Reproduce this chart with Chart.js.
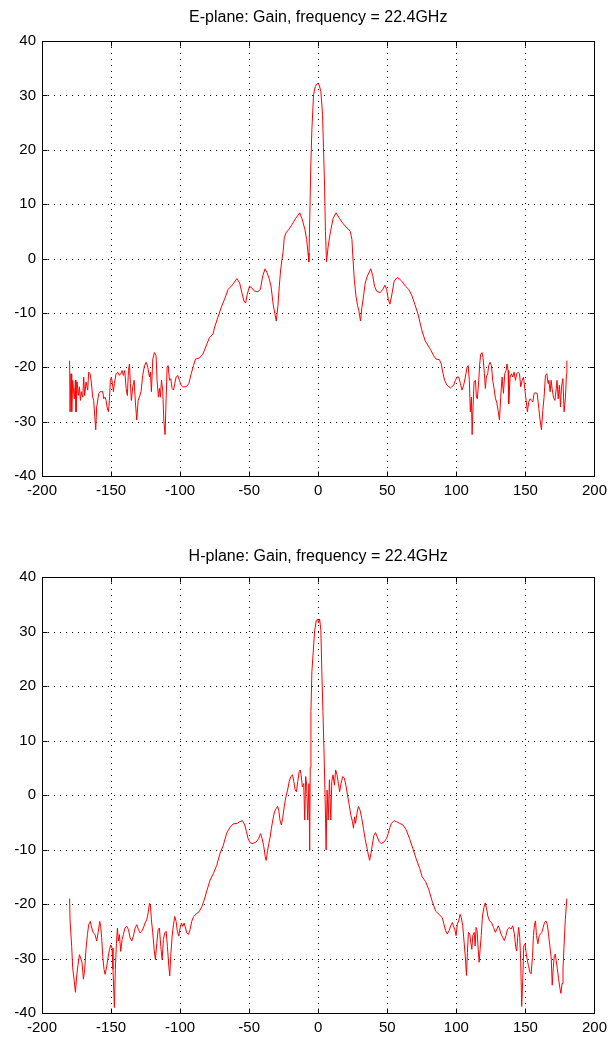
<!DOCTYPE html>
<html>
<head>
<meta charset="utf-8">
<script src="https://cdn.jsdelivr.net/npm/chart.js@4.4.1/dist/chart.umd.min.js"></script>
<style>
  html, body { margin: 0; padding: 0; background: #ffffff; }
  body { width: 613px; height: 1040px; position: relative; overflow: hidden; }
  canvas { position: absolute; left: 0; }
  #cE { top: 0; }
  #cH { top: 536px; }
</style>
</head>
<body>
<canvas id="cE" width="613" height="520"></canvas>
<canvas id="cH" width="613" height="504"></canvas>
<script>
// ---- tick labels ----
const xTicks = [-200, -150, -100, -50, 0, 50, 100, 150, 200];
const yTicks = [-40, -30, -20, -10, 0, 10, 20, 30, 40];

// ---- titles ----
const titleE = 'E-plane: Gain, frequency = 22.4GHz';
const titleH = 'H-plane: Gain, frequency = 22.4GHz';

// ---- E-plane: angle (deg) and gain (dB) ----
const angleE = [
  -180, -179.7, -179, -178.5, -177.8, -176.6, -175.8, -175.4, -174.6, -173.7, -172.9, -172.2, -171.5, -170.5,
  -169.8, -169.1, -168.1, -166.9, -166.2, -165.2, -164.3, -163.3, -162.6, -161.8, -161.1, -160.4, -158.9, -158,
  -156, -155.3, -154.3, -153.6, -152.9, -151.9, -151.2, -150.5, -149.8, -149, -148.3, -147.6, -146.4, -145.2,
  -144, -143, -142, -141.1, -140.1, -139.1, -138.2, -137.4, -136.7, -136, -135.3, -134.3, -133.3, -132.4,
  -131.4, -130.4, -129.5, -128.3, -127.1, -125.8, -124.6, -123.4, -122.2, -121.5, -120.8, -119.8, -118.6,
  -117.4, -116.7, -115.7, -115, -114.3, -113.5, -112.6, -111.8, -110.9, -110.1, -109.4, -108.7, -107.7, -106.8,
  -105.8, -104.8, -103.9, -102.9, -101.7, -100.5, -99.3, -98.1, -95.7, -93.7, -92, -90.3, -88.9, -86, -83.6,
  -81.2, -78.7, -76.2, -75, -72.6, -70.1, -67.7, -65.3, -63, -61.7, -58.9, -56.9, -55.3, -53.8, -52.6, -51.4,
  -49.8, -48.1, -46.2, -43.8, -41.9, -40.2, -38.5, -37.1, -35.4, -34.2, -32.5, -31.1, -30.4, -29.2, -28.2,
  -27.3, -26.3, -25.4, -24.6, -23.4, -21.5, -19.1, -16.3, -13.4, -11.5, -9.6, -8.4, -7.4, -6.8, -6.1, -5.4,
  -4.6, -3.4, -2.2, -1.0, 0, 0.7, 1.9, 3.1, 3.8, 4.6, 5.2, 6.0, 7.2, 8.9, 10.8, 12.9, 15.3, 17.7, 20.8, 23.2,
  24.4, 25.1, 26.1, 27.3, 28.5, 29.4, 30.6, 31.6, 32.8, 34.0, 35.6, 38.0, 39.5, 40.7, 42.3, 44.7, 46.7, 48.3,
  49.5, 50.7, 51.9, 53.1, 55.0, 57.4, 60.3, 63.2, 65.6, 67.9, 69.9, 72.2, 75.1, 77.5, 81.2, 83.6, 85.3, 87.7,
  89.1, 90.1, 91.5, 93.2, 95.7, 98.1, 99.3, 100.5, 101.7, 102.9, 104.1, 105.3, 106.5, 107.7, 108.5, 109.4,
  110.1, 110.9, 111.4, 112.1, 112.8, 113.8, 114.5, 115.2, 116.2, 116.9, 117.6, 118.6, 119.3, 120.3, 121.0,
  121.7, 122.7, 123.4, 124.4, 125.4, 126.3, 127.3, 128.3, 129.2, 130.2, 131.2, 132.1, 133.1, 134.1, 135.0,
  136.0, 136.7, 137.4, 137.9, 138.9, 139.9, 140.8, 141.8, 142.8, 143.7, 144.7, 145.7, 146.6, 147.6, 148.6,
  149.5, 150.5, 151.4, 152.4, 153.4, 154.3, 155.3, 156.3, 157.2, 158.5, 159.7, 160.6, 161.6, 162.6, 163.5,
  164.5, 165.5, 166.4, 166.9, 167.9, 168.6, 169.3, 170.3, 171.3, 172.2, 172.9, 173.7, 174.6, 175.4, 176.1,
  177.1, 178.0, 179.0, 179.7, 180
];
const gainE = [
  -18.8, -28.2, -21.2, -28.2, -22.4, -25.8, -22.4, -28.2, -22.7, -25.2, -23.6, -26.1, -24.5, -25.5,
  -21.8, -25.2, -22.7, -24.2, -20.9, -21.2, -22.7, -25.5, -26.1, -29.1, -31.5, -27.3, -24.8, -24.5,
  -24.5, -25.8, -25.5, -26.1, -27.3, -28.2, -26.1, -22.4, -21.8, -23.0, -24.5, -23.0, -21.2, -20.9,
  -21.5, -21.2, -20.6, -21.5, -20.6, -23.9, -25.2, -20.6, -19.4, -23.0, -26.1, -23.6, -22.4, -26.4,
  -29.7, -26.1, -25.5, -24.5, -21.5, -19.7, -19.1, -20.0, -21.8, -20.9, -24.5, -18.5, -17.3,
  -17.9, -22.4, -25.5, -23.9, -25.5, -22.4, -24.2, -29.7, -32.4, -25.5, -20.0, -19.7, -22.4, -22.1,
  -23.9, -24.2, -23.0, -21.8, -21.5, -22.4, -23.3, -23.6, -23.6, -23.0, -21.2, -19.7, -18.5, -18.3, -17.6,
  -16.1, -14.5, -13.9, -12.6, -10.8, -8.9, -7.4, -5.7, -5.1, -4.7, -3.7, -4.5, -6.3, -7.8, -8.2, -6.6,
  -5.1, -5.4, -6.0, -6.1, -5.7, -3.2, -1.9, -2.6, -3.8, -5.1, -8.7, -10.5, -11.5, -8.7, -5.1,
  -2.3, -0.2, 1.3, 3.8, 4.7, 5.3, 6.2, 7.4, 8.4, 7.1, 5.3, 3.5, 1.0, -0.6, 8.0, 17.0,
  23.7, 30.1, 31.6, 32.1, 32.2, 31.9, 30.7, 26.5, 20.4, 13.1, 5.0, -0.6, 2.3, 5.0, 7.4, 8.4, 7.4, 6.5, 5.6, 5.0,
  3.5, 0.1, -3.8, -6.9, -8.7, -9.6, -11.5, -9.0, -6.9, -4.5, -3.2, -1.9, -3.2, -5.1, -6.0, -6.3, -5.7, -4.9,
  -5.7, -7.5, -8.4, -6.9, -4.1, -3.5, -4.1, -5.1, -5.7, -6.9, -8.4, -10.2, -13.3, -15.2, -16.7, -17.9, -18.5, -18.6,
  -19.4, -20.9, -22.4, -23.3, -23.8, -23.3, -22.4, -21.8, -21.8, -23.0, -24.2, -23.3, -21.8, -20.0, -19.7, -22.4,
  -28.2, -25.5, -32.4, -27.3, -22.7, -22.4, -25.5, -25.8, -22.4, -19.4, -17.6, -17.3, -18.2, -21.2, -23.9,
  -21.8, -21.2, -19.7, -19.1, -19.7, -22.4, -23.9, -25.8, -26.4, -27.9, -29.7, -25.5, -21.8, -24.8, -21.2,
  -20.6, -19.4, -20.6, -26.7, -21.8, -21.2, -21.8, -20.9, -22.4, -21.2, -20.9, -21.2, -23.6, -22.4, -21.8,
  -23.9, -26.1, -28.2, -26.4, -25.8, -26.1, -26.4, -24.8, -24.7, -24.8, -27.6, -29.7, -31.5, -27.9, -25.5,
  -21.5, -21.2, -23.0, -22.4, -24.5, -22.4, -23.9, -25.5, -26.1, -24.2, -22.4, -25.8, -23.3, -27.3, -23.6,
  -22.1, -28.2, -25.5, -21.2, -18.8
];

// ---- H-plane: angle (deg) and gain (dB) ----
const angleH = [
  -180, -179.7, -178.5, -177.8, -176.8, -175.8, -174.9, -173.9, -172.9, -172.0, -171.0, -170.0, -169.1, -168.1,
  -167.1, -166.2, -165.0, -164.0, -162.8, -161.6, -160.4, -159.2, -158.2, -157.5, -156.8, -156.0, -155.1,
  -154.3, -153.1, -152.2, -151.2, -150.2, -149.3, -148.6, -147.6, -146.9, -146.1, -145.4, -144.7, -144.0,
  -143.0, -142.0, -141.1, -139.9, -138.6, -137.4, -136.2, -135.0, -133.8, -132.6, -131.4, -130.2, -129.0,
  -127.8, -126.6, -125.4, -124.2, -123.2, -122.2, -121.5, -120.8, -119.8, -118.8, -117.9, -116.9, -115.9,
  -115.0, -114.0, -113.0, -112.1, -111.1, -110.1, -109.2, -108.2, -107.5, -106.8, -105.8, -104.8, -103.9,
  -102.9, -102.0, -101.0, -100.0, -99.0, -98.1, -97.1, -96.1, -95.2, -94.0, -92.8, -91.6, -90.3, -87.9, -86.2,
  -84.3, -82.6, -80.7, -78.3, -75.9, -73.5, -71.1, -68.7, -66.3, -64.0, -61.6, -58.7, -56.8, -54.9, -53.2,
  -52.0, -50.8, -49.2, -47.3, -44.9, -43.2, -41.8, -40.6, -39.4, -38.4, -37.7, -36.8, -35.8, -34.8, -33.9,
  -32.9, -31.7, -30.5, -29.4, -28.6, -27.7, -26.7, -25.8, -24.6, -23.4, -22.2, -21.0, -19.8, -18.6, -17.7,
  -16.7, -15.8, -14.8, -13.8, -13.1, -12.4, -11.5, -10.5, -9.8, -9.1, -8.4, -7.6, -6.7, -6.2, -5.8, -5.3,
  -4.6, -2.6, -1.4, -0.4, 0.2, 1.0, 1.9, 2.6, 3.4, 4.1, 5.0, 5.7, 6.4, 7.2, 8.1, 9.1, 9.8, 10.7, 11.7, 12.6,
  13.6, 14.6, 15.5, 16.5, 17.7, 18.9, 20.0, 21.2, 22.4, 23.6, 24.8, 25.5, 26.3, 27.0, 28.2, 29.1, 30.3, 31.5,
  32.7, 33.9, 35.1, 36.3, 37.2, 38.2, 39.1, 40.3, 41.5, 42.7, 44.2, 45.8, 47.7, 49.4, 50.6, 51.8, 53.0, 54.9,
  56.6, 58.9, 61.3, 63.7, 66.1, 68.5, 70.9, 73.5, 75.2, 77.7, 80.1, 82.5, 85.0, 87.4, 89.8, 91.0, 92.2, 93.4,
  94.7, 95.9, 97.1, 97.8, 98.8, 99.8, 100.7, 101.7, 102.7, 103.6, 104.6, 105.6, 106.6, 107.3, 108.0, 108.7,
  109.7, 110.4, 111.2, 111.9, 112.9, 113.6, 114.3, 115.0, 115.8, 116.5, 117.2, 118.0, 118.9, 119.9, 120.9,
  121.8, 122.8, 124.0, 125.5, 126.9, 128.2, 129.4, 130.3, 131.3, 132.3, 133.5, 134.7, 135.9, 137.1, 138.3,
  139.6, 140.8, 142.0, 143.0, 143.7, 144.4, 145.1, 145.9, 146.6, 147.3, 148.1, 148.8, 149.8, 150.5, 151.2,
  152.2, 153.2, 154.1, 155.1, 155.8, 156.6, 157.3, 158.0, 159.0, 160.0, 160.9, 161.9, 162.9, 163.8, 164.8,
  165.8, 166.7, 167.7, 168.7, 169.4, 170.1, 170.9, 171.6, 172.3, 173.1, 174.0, 175.0, 175.7, 176.5, 177.2,
  177.9, 178.9, 180
];
const gainH = [
  -19.0, -22.9, -27.8, -31.7, -33.8, -36.2, -33.2, -31.1, -29.3, -29.9, -30.8, -33.8, -32.0, -28.1,
  -25.6, -23.8, -23.2, -24.4, -25.3, -25.6, -26.8, -25.0, -23.2, -24.1, -26.2, -29.6, -32.0,
  -32.9, -31.4, -29.9, -28.4, -27.5, -28.1, -32.0, -39.0, -32.0, -27.2, -24.4, -26.8, -25.6,
  -28.7, -26.5, -25.6, -24.4, -24.1, -24.7, -26.2, -26.8, -25.9, -24.4, -23.8, -24.7, -25.3,
  -25.0, -24.4, -23.5, -22.9, -21.7, -19.9, -20.2, -22.9, -25.3, -28.4, -30.2, -27.2, -24.7,
  -24.4, -27.8, -30.2, -26.5, -25.3, -25.0, -27.8, -31.4, -33.2, -29.6, -25.9, -23.8, -22.3,
  -23.2, -25.0, -25.9, -24.4, -23.5, -24.1, -23.5, -24.4, -25.3, -25.6, -24.7, -23.2, -22.3, -21.7, -21.4,
  -20.5, -19.3, -17.6, -15.6, -14.4, -12.9, -10.7, -9.2, -7.0, -6.0, -5.3, -5.2, -4.9, -4.7, -5.5,
  -6.7, -8.0, -8.8, -8.9, -8.6, -8.0, -7.1, -8.0, -9.5, -11.3, -12.0, -10.4, -8.9, -7.7, -6.1,
  -4.6, -3.1, -2.5, -2.1, -2.8, -4.6, -5.5, -4.3, -2.1, -0.3, 0.9, 2.5, 3.4, 3.7, 2.5,
  0.9, 0.6, 2.5, 4.3, 4.6, 3.7, 1.5, 2.1, -4.6, 3.4, 1.8, -4.6, 2.1, -10.2, 5.0, 15.3,
  22.6, 30.2, 32.0, 32.3, 31.6, 32.3, 30.2, 22.6, 15.3, 8.7, -0.8, -10.1, 0.9, -4.6, 2.8, -4.6, 2.5, 3.7, 1.8, 4.6,
  3.7, 2.1, 0.6, 2.1, 3.4, 3.1, 1.8, 0.0, -1.8, -3.7, -4.9, -6.1, -4.0, -5.2, -3.1, -2.1, -2.8, -4.3,
  -6.1, -8.0, -9.5, -11.0, -12.0, -10.7, -9.2, -7.4, -6.9, -7.7, -8.6, -8.9, -8.6, -8.0, -7.1, -6.0, -5.2, -4.7,
  -4.9, -5.2, -5.5, -6.4, -8.0, -9.8, -11.7, -13.5, -15.0, -15.9, -17.4, -19.5, -21.3, -21.9, -22.5, -23.7, -24.9, -25.5,
  -24.9, -24.0, -23.4, -24.0, -24.6, -25.8, -23.7, -23.1, -21.9, -22.5, -24.0, -27.0, -30.1, -33.1, -28.9, -25.2,
  -25.5, -27.0, -28.3, -25.8, -25.2, -27.7, -24.3, -24.9, -28.3, -30.7, -28.3, -25.8, -22.2, -20.7, -19.8,
  -20.7, -22.2, -23.1, -23.4, -24.3, -25.2, -24.6, -24.0, -24.6, -25.5, -26.1, -26.7, -25.8, -24.6, -24.3,
  -24.6, -24.0, -25.5, -28.0, -28.6, -26.1, -24.3, -26.1, -30.7, -38.8, -33.7, -27.7, -27.3, -28.9, -30.1,
  -31.3, -32.5, -32.8, -29.8, -25.8, -23.7, -23.1, -25.8, -27.3, -25.8, -25.5, -25.2, -24.3, -23.4, -23.1,
  -23.7, -25.5, -27.7, -30.1, -34.9, -31.9, -29.5, -29.2, -30.4, -31.9, -33.7, -35.5, -36.4, -34.6, -31.9,
  -28.0, -22.8, -19.0
];

const FONT = '"Liberation Sans", Arial, Helvetica, sans-serif';

// Draws MATLAB-style dotted grid, axes box and inward tick marks using the chart's scales
const matlabAxes = {
  id: 'matlabAxes',
  beforeDatasetsDraw(chart) {
    const { ctx, chartArea: a, scales: { x, y } } = chart;
    ctx.save();
    ctx.strokeStyle = '#000000';
    ctx.lineWidth = 1;
    ctx.setLineDash([1, 5]);
    x.ticks.forEach(t => {
      const px = Math.round(x.getPixelForValue(t.value)) + 0.5;
      if (px > a.left + 2 && px < a.right - 2) {
        ctx.beginPath(); ctx.moveTo(px, a.top); ctx.lineTo(px, a.bottom); ctx.stroke();
      }
    });
    y.ticks.forEach(t => {
      const py = Math.round(y.getPixelForValue(t.value)) + 0.5;
      if (py > a.top + 2 && py < a.bottom - 2) {
        ctx.beginPath(); ctx.moveTo(a.left, py); ctx.lineTo(a.right, py); ctx.stroke();
      }
    });
    ctx.restore();
  },
  afterDatasetsDraw(chart) {
    const { ctx, chartArea: a, scales: { x, y } } = chart;
    const L = Math.round(a.left) + 0.5, R = Math.round(a.right) + 0.5;
    const T = Math.round(a.top) + 0.5, B = Math.round(a.bottom) + 0.5;
    const tl = 5;
    ctx.save();
    ctx.strokeStyle = '#000000';
    ctx.lineWidth = 1;
    ctx.setLineDash([]);
    ctx.strokeRect(L, T, R - L, B - T);
    ctx.beginPath();
    x.ticks.forEach(t => {
      const px = Math.round(x.getPixelForValue(t.value)) + 0.5;
      ctx.moveTo(px, B); ctx.lineTo(px, B - tl);
      ctx.moveTo(px, T); ctx.lineTo(px, T + tl);
    });
    y.ticks.forEach(t => {
      const py = Math.round(y.getPixelForValue(t.value)) + 0.5;
      ctx.moveTo(L, py); ctx.lineTo(L + tl, py);
      ctx.moveTo(R, py); ctx.lineTo(R - tl, py);
    });
    ctx.stroke();
    ctx.restore();
  }
};

function makeChart(id, title, angles, gains, padTop, padBottom, xAxisH) {
  const points = angles.map((a, i) => ({ x: a, y: gains[i] }));
  return new Chart(document.getElementById(id), {
    type: 'line',
    data: {
      datasets: [{
        data: points,
        borderColor: '#ff0000',
        borderWidth: 1,
        pointRadius: 0,
        pointHoverRadius: 0,
        fill: false,
        tension: 0
      }]
    },
    options: {
      responsive: false,
      animation: false,
      devicePixelRatio: 1,
      events: [],
      layout: { padding: { left: 0, right: 17, top: 0, bottom: 0 } },
      plugins: {
        legend: { display: false },
        tooltip: { enabled: false },
        title: {
          display: true,
          fullSize: false,
          text: title,
          color: '#000000',
          font: { family: FONT, size: 16, weight: 'normal', lineHeight: 1.2 },
          padding: { top: padTop, bottom: padBottom }
        }
      },
      scales: {
        x: {
          type: 'linear',
          min: xTicks[0],
          max: xTicks[xTicks.length - 1],
          afterBuildTicks: s => { s.ticks = xTicks.map(v => ({ value: v })); },
          afterFit: s => { s.height = xAxisH; },
          grid: { display: false, drawTicks: false },
          border: { display: false },
          ticks: {
            color: '#000000',
            font: { family: FONT, size: 15 },
            padding: 6,
            autoSkip: false,
            maxRotation: 0,
            callback: v => String(v)
          }
        },
        y: {
          type: 'linear',
          min: yTicks[0],
          max: yTicks[yTicks.length - 1],
          afterBuildTicks: s => { s.ticks = yTicks.map(v => ({ value: v })); },
          afterFit: s => { s.width = 42; },
          grid: { display: false, drawTicks: false },
          border: { display: false },
          ticks: {
            color: '#000000',
            font: { family: FONT, size: 15 },
            padding: 6,
            autoSkip: false,
            callback: v => String(v)
          }
        }
      }
    },
    plugins: [matlabAxes]
  });
}

makeChart('cE', titleE, angleE, gainE, 8.4, 13.4, 44);
makeChart('cH', titleH, angleH, gainH, 11.4, 10.4, 27);
</script>
</body>
</html>
